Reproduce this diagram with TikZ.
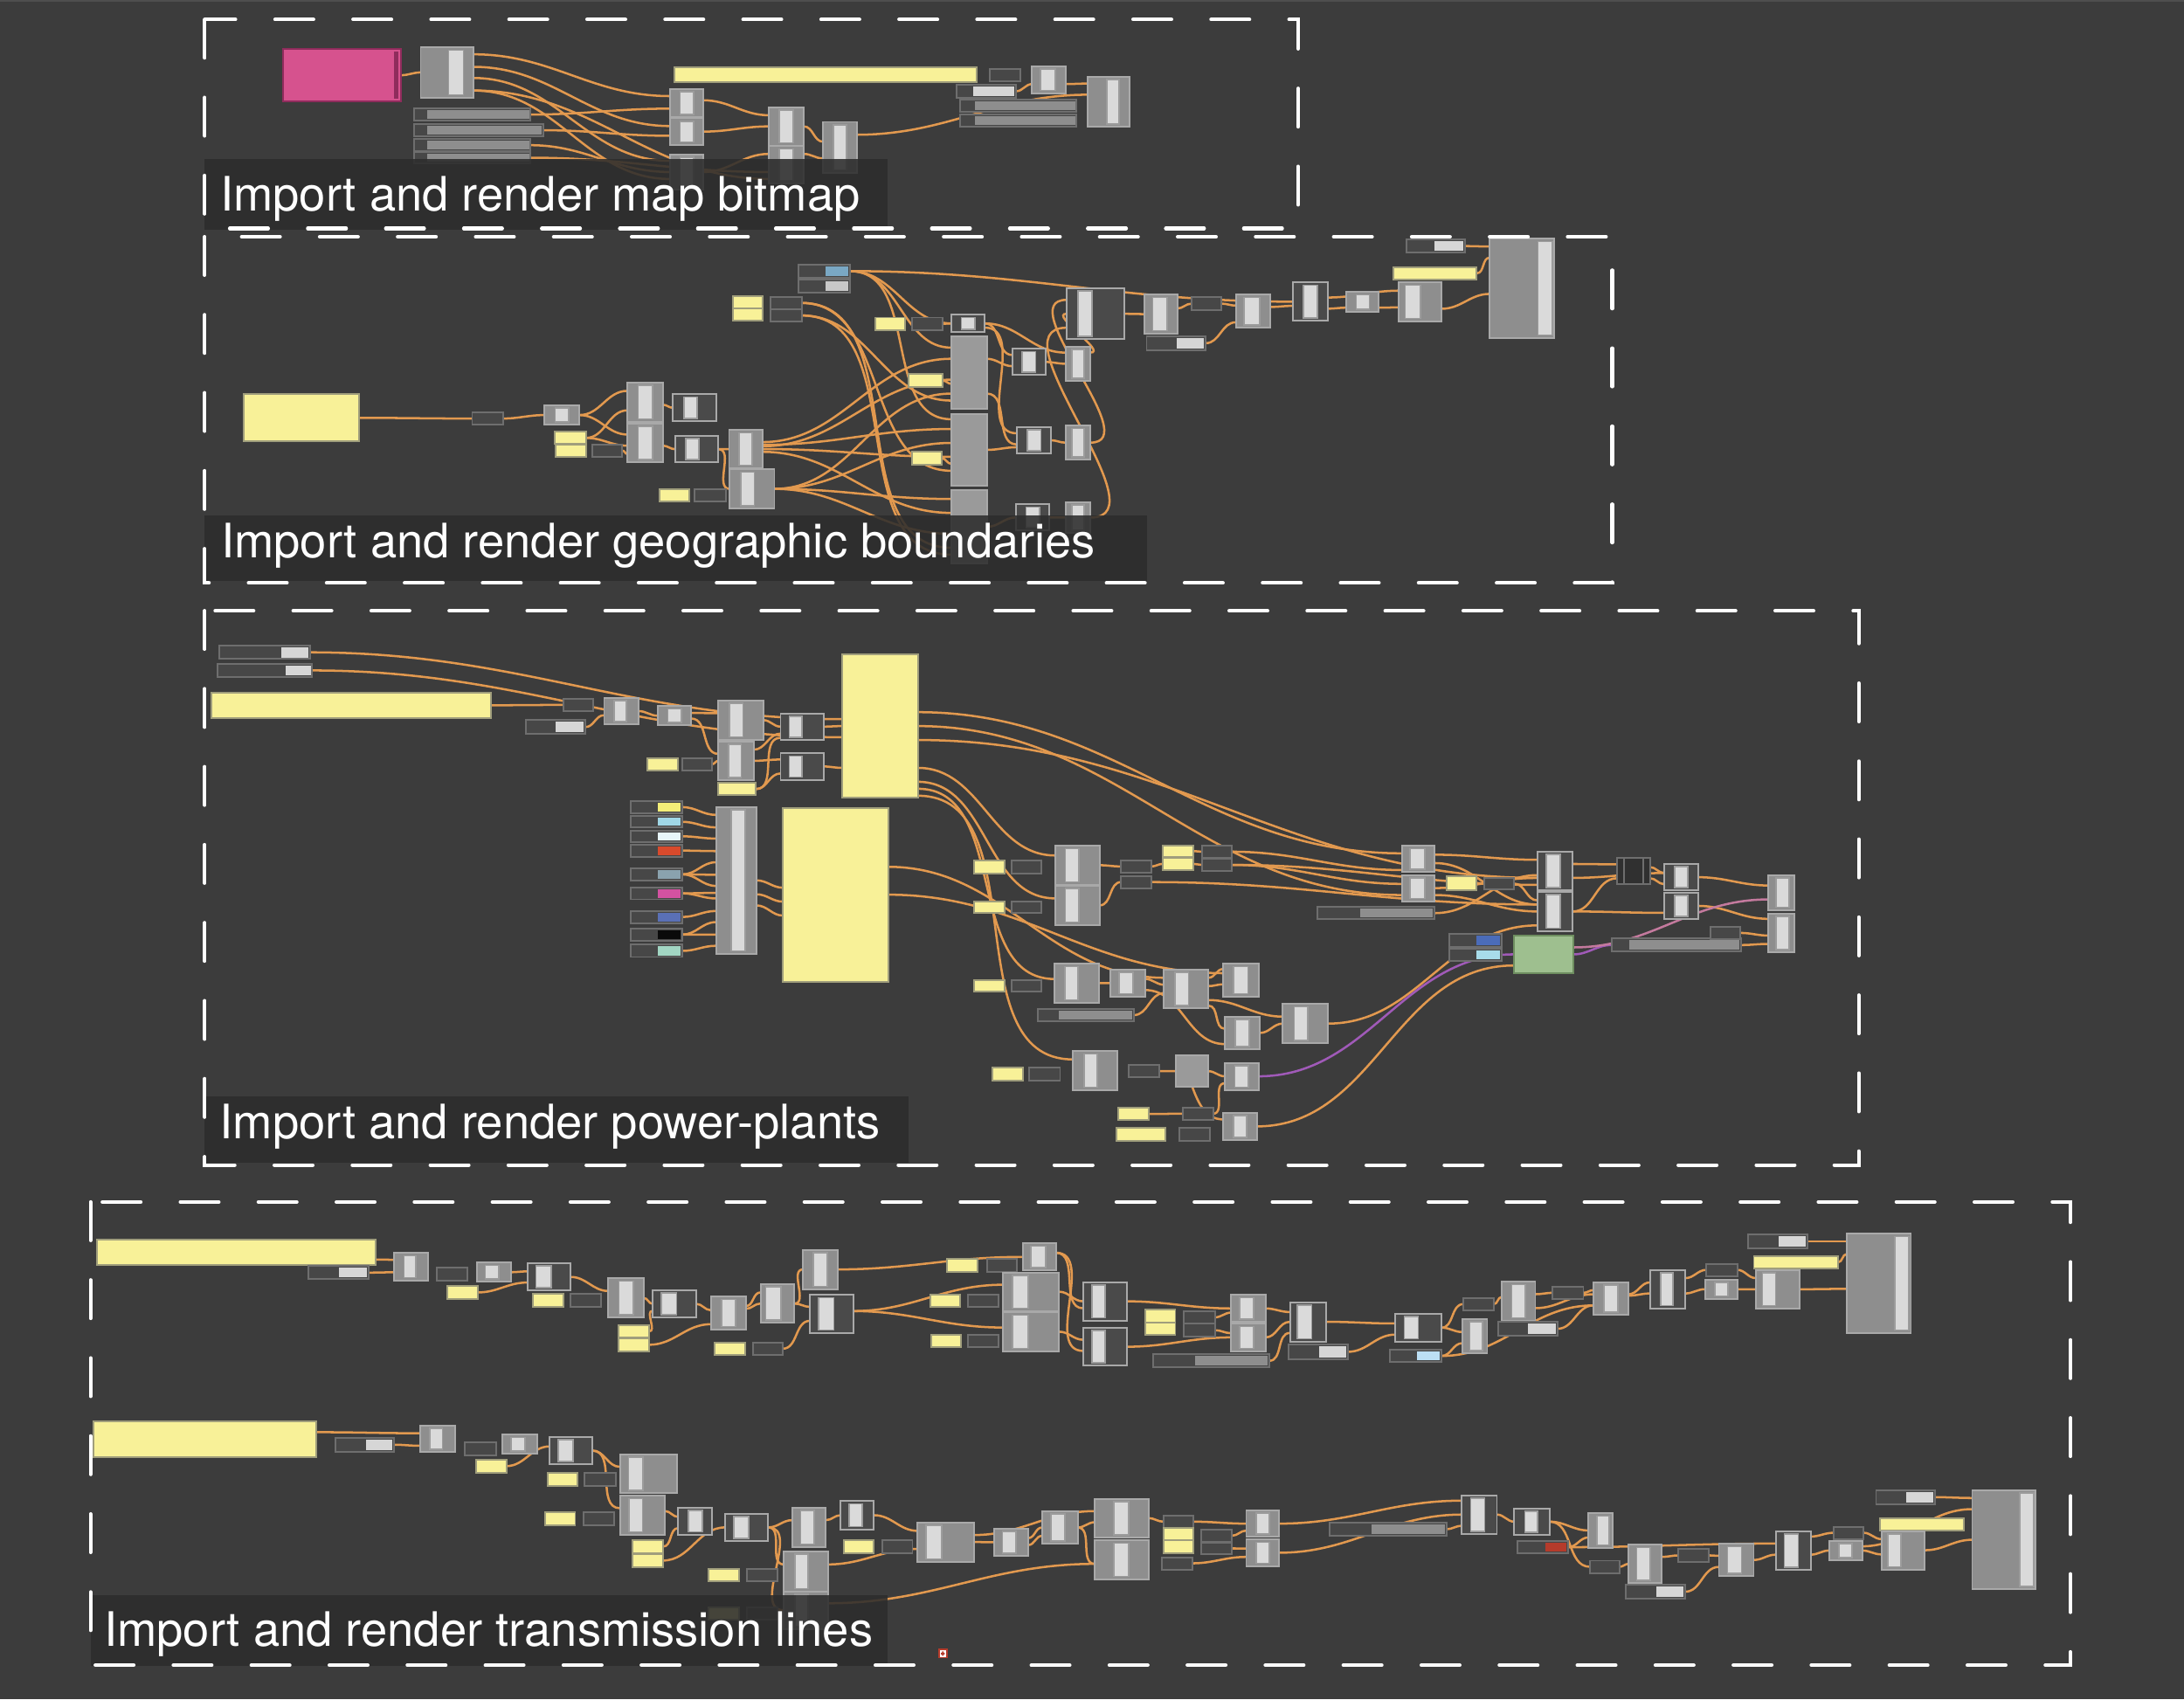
\documentclass[tikz,border=0pt]{standalone}
\usepackage{fontspec}
\setmainfont{TeX Gyre Heros}
\usetikzlibrary{fit,calc}
\pgfdeclarelayer{bgl}
\pgfdeclarelayer{wl}
\pgfdeclarelayer{tl}
\pgfsetlayers{bgl,wl,main,tl}
\definecolor{cbg}{HTML}{3C3C3C}
\definecolor{ctop}{HTML}{4E4E4E}
\definecolor{cgray}{HTML}{8E8E8E}
\definecolor{cgedge}{HTML}{A9A9A9}
\definecolor{cdark}{HTML}{4A4A4A}
\definecolor{cbar}{HTML}{DADADA}
\definecolor{cbaredge}{HTML}{9C9C9C}
\definecolor{cyel}{HTML}{F8F198}
\definecolor{cyedge}{HTML}{A09E7C}
\definecolor{cpar}{HTML}{474747}
\definecolor{cpedge}{HTML}{6E6E6E}
\definecolor{cplain}{HTML}{9A9A9A}
\definecolor{cwire}{HTML}{E2994F}
\definecolor{clab}{HTML}{2D2D2D}
\definecolor{cpink}{HTML}{D6528E}
\definecolor{cpinkd}{HTML}{8F2C5C}
\definecolor{cswb}{HTML}{7AA8C4}
\definecolor{clgray}{HTML}{C8C8C8}
\definecolor{clight}{HTML}{D6D6D6}
\definecolor{swy}{HTML}{F4EE78}
\definecolor{swc}{HTML}{A0D7E6}
\definecolor{swl}{HTML}{E8F6FA}
\definecolor{swr}{HTML}{D84A2C}
\definecolor{swg}{HTML}{8AA2AE}
\definecolor{swp}{HTML}{D352A1}
\definecolor{swb}{HTML}{5A70B6}
\definecolor{swk}{HTML}{0A0A0A}
\definecolor{swm}{HTML}{A2D6C3}
\definecolor{cblue}{HTML}{4B6CB9}
\definecolor{clb}{HTML}{A8DCEA}
\definecolor{cgreen}{HTML}{9EBF8F}
\definecolor{cgreend}{HTML}{6E8E60}
\definecolor{cred}{HTML}{B53B2B}
\definecolor{clblue}{HTML}{BCDFF4}
\definecolor{cpurple}{HTML}{A05AB8}
\definecolor{cpinkw}{HTML}{C47A9E}
\definecolor{cblk}{HTML}{303030}
\tikzset{
  base/.style={inner sep=0pt,outer sep=0pt,line width=0.35pt},
  gbox/.style={base,fill=cgray,draw=cgedge},
  dbox/.style={base,fill=cdark,draw=cgedge},
  ybox/.style={base,fill=cyel,draw=cyedge},
  pbox/.style={base,fill=cpar,draw=cpedge},
  plainbox/.style={base,fill=cplain,draw=cgedge},
  pinkbox/.style={base,fill=cpink,draw=cpinkd},
  greenbox/.style={base,fill=cgreen,draw=cgreend},
  blackbox/.style={base,fill=cblk,draw=cpedge},
  iconbox/.style={base,fill=white,draw=cred},
  barst/.style={fill=cbar,draw=cbaredge,line width=0.3pt},
  wire/.style={draw=cwire,line width=0.45pt},
  pwire/.style={draw=cpurple},
  kwire/.style={draw=cpinkw},
  grpframe/.style={draw=white,line width=0.75pt,line cap=round,dash pattern=on 2.75mm off 2.85mm},
  lblbox/.style={fill=clab,fill opacity=0.88,draw=none},
  lbl/.style={text=white,anchor=base west,inner sep=0pt,font=\fontsize{9.7}{12}\selectfont},
}
% component: [style]{name}{x1}{y1}{x2}{y2}{bar from}{bar to}
\newcommand\gcomp[8][gbox]{\node[#1,fit={(#3,#4) (#5,#6)}] (#2) {};
  \filldraw[barst] ({#3+(#5-#3)*#7},{#4+2}) rectangle ({#3+(#5-#3)*#8},{#6-2});}
\newcommand\gpan[5]{\node[ybox,fit={(#2,#3) (#4,#5)}] (#1) {};}
\newcommand\gprm[5]{\node[pbox,fit={(#2,#3) (#4,#5)}] (#1) {};}
\newcommand\gblk[6][plainbox]{\node[#1,fit={(#3,#4) (#5,#6)}] (#2) {};}
\newcommand\gsld[7]{\node[pbox,fit={(#2,#3) (#4,#5)}] (#1) {};
  \fill[#7] ({#6},{#3+1.2}) rectangle ({#4-1.2},{#5-1.2});}
\newcommand\gw[5][]{\draw[wire,#1] ($(#2.east)+(0,#3)$) to[out=0,in=180] ($(#4.west)+(0,#5)$);}
\begin{document}
\begin{tikzpicture}[x=0.1mm,y=-0.1mm]
\useasboundingbox (0,0) rectangle (1568,1220);
\begin{pgfonlayer}{bgl}
\fill[cbg] (0,0) rectangle (1568,1220);
\fill[ctop] (0,0) rectangle (1568,1.5);
\end{pgfonlayer}

% ================= Group 1 : map bitmap =================
\gblk[pinkbox]{g1pink}{203}{35}{288}{73}
\fill[cpinkd] (283,37) rectangle (286,71);
\gcomp{g1a}{302}{34}{340}{70}{0.53}{0.81}
\gsld{g1s1}{297}{78}{381}{86.5}{307}{cgray}
\gsld{g1s2}{297}{89}{390}{98}{307}{cgray}
\gsld{g1s3}{297}{100}{381}{108.5}{307}{cgray}
\gsld{g1s4}{297}{109}{381}{117.5}{307}{cgray}
\gpan{g1y}{484}{48}{701}{59}
\gcomp{g1b1}{481}{64}{505}{84}{0.3}{0.7}
\gcomp{g1b2}{481}{85}{505}{104}{0.3}{0.7}
\gcomp{g1b3}{481}{111}{505}{136}{0.3}{0.7}
\gcomp{g1c1}{552}{77}{577}{104.5}{0.3}{0.7}
\gcomp{g1c2}{552}{105}{577}{132}{0.3}{0.7}
\gcomp{g1d1}{591}{87.5}{615}{124}{0.3}{0.7}
\gprm{g1p}{710.6}{49.6}{732.5}{58.5}
\gcomp{g1e}{741}{47.7}{765}{67}{0.25}{0.7}
\gsld{g1f}{687}{61}{729.5}{70}{699}{clight}
\gsld{g1g1}{689}{71.7}{773}{80.4}{700}{cgray}
\gsld{g1g2}{689}{82}{773}{91}{700}{cgray}
\gcomp{g1h}{781}{55}{811}{91}{0.45}{0.75}

% ================= Group 2 : geographic boundaries =================
\gpan{g2big}{175}{283}{258}{317}
\gprm{g2p1}{339}{296}{361}{305}
\gcomp{g2h1}{391}{291}{416}{305}{0.3}{0.7}
\gcomp{g2h2}{450.6}{274.5}{476}{302.7}{0.3}{0.7}
\gcomp[dbox]{g2h3}{483}{283}{514.6}{302.5}{0.25}{0.55}
\gcomp{g2h4}{450.6}{304}{476}{332}{0.3}{0.7}
\gpan{g2y1}{398.5}{310}{420.7}{318.8}
\gpan{g2y2}{399}{319}{421}{328}
\gprm{g2p2}{425}{319}{446.7}{328}
\gcomp[dbox]{g2h5}{484.7}{313}{515.7}{332}{0.25}{0.55}
\gcomp{g2h6}{523.4}{308.8}{547.4}{336}{0.3}{0.7}
\gcomp{g2h7}{524}{337}{556}{365}{0.25}{0.55}
\gpan{g2y3}{473.5}{351}{495}{360}
\gprm{g2p3}{498.8}{351}{521}{360}
\gsld{g2s1}{573.4}{190}{610.4}{199.3}{592.8}{cswb}
\gsld{g2s2}{573.4}{201}{610.4}{210}{592.8}{clgray}
\gpan{g2y4}{526}{212.6}{547.4}{221.2}
\gpan{g2y5}{526}{221.6}{547.4}{230}
\gprm{g2p4}{553.4}{213}{575.5}{222}
\gprm{g2p5}{553.4}{222}{575.5}{231}
\gpan{g2y6}{628.3}{228}{650}{237}
\gprm{g2p6}{654.7}{228}{676.6}{237}
\gcomp[dbox]{g2i1}{683}{226}{707}{238.4}{0.3}{0.7}
\gblk{g2i2}{683}{241.5}{708.5}{293.7}
\gblk{g2i3}{683}{297}{708.5}{349}
\gblk{g2i4}{683}{352}{708.5}{404.5}
\gpan{g2y7}{652.2}{268.6}{677}{278}
\gpan{g2y8}{654.7}{324.5}{676}{333.4}
\gcomp[dbox]{g2j1}{726.9}{250.5}{750.6}{269.3}{0.3}{0.7}
\gcomp{g2j2}{764.9}{248.8}{782.8}{273.5}{0.25}{0.75}
\gcomp[dbox]{g2j3}{730}{306.5}{754.6}{325.7}{0.3}{0.7}
\gcomp{g2j4}{764.9}{305.6}{782.8}{330}{0.25}{0.75}
\gcomp[dbox]{g2j5}{729.4}{362}{753.4}{381}{0.3}{0.7}
\gcomp{g2j6}{764.9}{360.6}{782.8}{382.6}{0.25}{0.75}
\gcomp[dbox]{g2k1}{765.7}{207}{807.3}{243.6}{0.2}{0.44}
\gcomp{g2k2}{821.6}{211.6}{845.2}{239.4}{0.25}{0.7}
\gprm{g2p7}{855.4}{213.3}{877}{222.7}
\gsld{g2s3}{823.2}{241.5}{865.6}{251.3}{845}{clight}
\gcomp{g2k3}{887.2}{211.6}{911.7}{235.2}{0.25}{0.7}
\gcomp[dbox]{g2k4}{928}{202.8}{953.3}{230.4}{0.3}{0.7}
\gcomp{g2k5}{966.8}{209.7}{990}{224.1}{0.3}{0.7}
\gcomp{g2k6}{1004.3}{202.8}{1035}{230.6}{0.15}{0.5}
\gpan{g2y9}{1000.3}{191.7}{1060.2}{200.7}
\gsld{g2s4}{1009.7}{171.9}{1052}{181.5}{1030}{clight}
\gcomp{g2k7}{1069.6}{171.5}{1115.7}{242.5}{0.75}{0.97}

% ================= Group 3 : power plants =================
\gsld{g3s1}{157.4}{463.5}{222.5}{473.2}{202}{clight}
\gsld{g3s2}{156.3}{476.5}{224.2}{486.2}{205}{clight}
\gpan{g3y1}{152}{497.4}{352.7}{515.3}
\gprm{g3p1}{404.5}{501.8}{426}{510.4}
\gsld{g3s3}{377.4}{517}{420.3}{527}{399}{clight}
\gcomp{g3q1}{433.7}{501}{458.3}{520}{0.3}{0.65}
\gcomp{g3q2}{472.4}{507}{496.3}{520.8}{0.3}{0.7}
\gcomp{g3q3}{515.7}{503}{548}{531}{0.25}{0.55}
\gcomp{g3q4}{515.7}{532.2}{541}{560.3}{0.3}{0.65}
\gpan{g3y2}{464.7}{544.2}{486.5}{553.3}
\gprm{g3p2}{490}{544.2}{511}{553.3}
\gpan{g3y3}{515.3}{562.2}{542.8}{570.8}
\gcomp[dbox]{g3q5}{560.4}{512.2}{591.4}{531.2}{0.2}{0.5}
\gcomp[dbox]{g3q6}{560.4}{540.8}{591.4}{559.8}{0.2}{0.5}
\gpan{g3r1}{604.4}{469.8}{659}{572.8}
\gpan{g3r2}{562.2}{579.9}{637.8}{704.8}
\gsld{g3c1}{453}{575.2}{490}{583.8}{472}{swy}
\gsld{g3c2}{453}{585.9}{490}{594.2}{472}{swc}
\gsld{g3c3}{453}{596.3}{490}{604.6}{472}{swl}
\gsld{g3c4}{453}{606.4}{490}{615}{472}{swr}
\gsld{g3c5}{453}{623.3}{490}{632.2}{472}{swg}
\gsld{g3c6}{453}{637.1}{490}{645.7}{472}{swp}
\gsld{g3c7}{453}{654}{490}{662.7}{472}{swb}
\gsld{g3c8}{453}{666.5}{490}{675.4}{472}{swk}
\gsld{g3c9}{453}{678.3}{490}{687.1}{472}{swm}
\gcomp{g3s}{514}{579.3}{543}{684.8}{0.38}{0.72}
\gcomp{g3t1}{757.6}{607.3}{789.5}{635.1}{0.23}{0.53}
\gcomp{g3t2}{757.6}{636}{789.5}{664}{0.23}{0.53}
\gpan{g3y4}{699.3}{618}{721.3}{627}
\gprm{g3p4}{726}{618}{747.7}{627}
\gpan{g3y5}{699.3}{647}{721.3}{655.6}
\gprm{g3p5}{726}{647}{747.7}{655.6}
\gprm{g3p6}{804.9}{617.6}{826.5}{626.6}
\gprm{g3p7}{804.9}{628.9}{826.5}{637.7}
\gpan{g3y6}{835}{607}{856.6}{615}
\gpan{g3y7}{835}{615.7}{856.6}{624.7}
\gprm{g3p8}{862.8}{607.3}{884.5}{615.7}
\gprm{g3p9}{862.8}{616.8}{884.5}{625.1}
\gsld{g3s4}{946}{651.2}{1030}{660}{976.5}{cgray}
\gpan{g3y8}{699.5}{703.5}{721.3}{712}
\gprm{g3p10}{726}{703.5}{747.7}{712}
\gcomp{g3u1}{757.2}{692}{789}{719.8}{0.23}{0.53}
\gcomp{g3u2}{797.2}{696.2}{822}{715.4}{0.25}{0.65}
\gcomp{g3u3}{835.7}{696.2}{867.6}{723.8}{0.25}{0.55}
\gcomp{g3u4}{878.2}{692}{903.5}{715.4}{0.3}{0.7}
\gsld{g3s5}{745}{724.4}{814}{733.2}{760}{cgray}
\gcomp{g3u5}{879.3}{730}{904.6}{753.2}{0.3}{0.7}
\gcomp{g3u6}{921}{720.8}{953.4}{749}{0.25}{0.55}
\gpan{g3y9}{712.5}{766.6}{734.5}{775.6}
\gprm{g3p11}{739.1}{766.6}{761.1}{775.6}
\gcomp{g3v1}{770.1}{754.7}{802.3}{782.5}{0.25}{0.55}
\gprm{g3p12}{810.4}{764.5}{832.4}{773.5}
\gblk{g3v2}{844.5}{757.8}{867.6}{780.4}
\gcomp{g3v3}{879.3}{763}{903.5}{782.5}{0.3}{0.7}
\gpan{g3y10}{802.7}{795.4}{824.7}{804.2}
\gprm{g3p13}{849.3}{795}{870.9}{804.2}
\gpan{g3y11}{801.6}{810}{836.8}{818.9}
\gprm{g3p14}{846.7}{810}{868.7}{818.9}
\gcomp{g3v4}{878.2}{799}{902.4}{818.4}{0.3}{0.7}
\gcomp{g3w1}{1006.4}{607.3}{1030}{626}{0.25}{0.7}
\gcomp{g3w2}{1006.4}{628.2}{1030}{647}{0.25}{0.7}
\gpan{g3y12}{1038.8}{628.9}{1060.2}{639.3}
\gprm{g3p15}{1065.4}{630.1}{1087.1}{638.7}
\gcomp[dbox]{g3w3}{1103.7}{611.5}{1129.1}{639.1}{0.25}{0.65}
\gcomp[dbox]{g3w4}{1103.7}{640.4}{1129.1}{668.4}{0.25}{0.65}
\gblk[blackbox]{g3w5}{1161}{616.1}{1184.6}{635}
\draw[cpedge,line width=0.35pt] (1166,616.1) -- (1166,635) (1179.6,616.1) -- (1179.6,635);
\gcomp[dbox]{g3w6}{1194.8}{620.3}{1219.3}{639.3}{0.3}{0.7}
\gcomp[dbox]{g3w7}{1194.8}{640.8}{1219.3}{660}{0.3}{0.7}
\gsld{g3sw1}{1040.6}{670.7}{1078.4}{679.9}{1060.2}{cblue}
\gsld{g3sw2}{1040.6}{681.1}{1078.4}{689.9}{1060.2}{clb}
\gblk[greenbox]{g3grn}{1086.7}{671.7}{1129.6}{698.7}
\gsld{g3s6}{1157}{673.8}{1250}{683.2}{1170}{cgray}
\gprm{g3p16}{1227.8}{665.4}{1249.5}{674.2}
\gcomp{g3w8}{1269.6}{628.2}{1288}{653.3}{0.3}{0.8}
\gcomp{g3w9}{1269.6}{655.8}{1288}{683.6}{0.3}{0.8}

% ================= Group 4 : transmission lines, upper row =================
\gpan{g4y1}{69.9}{890.2}{269.9}{908.4}
\gsld{g4s1}{221.6}{909}{264.4}{918.4}{243.5}{clight}
\gcomp{g4x1}{282.8}{899.6}{307.2}{919.3}{0.3}{0.65}
\gprm{g4p1}{313.6}{910.3}{335.5}{919.5}
\gcomp{g4x2}{342.2}{906.5}{366.7}{920.3}{0.25}{0.65}
\gpan{g4y2}{321.3}{923.4}{343.2}{932.4}
\gcomp[dbox]{g4x3}{378.6}{907}{409.8}{926.6}{0.2}{0.55}
\gpan{g4y3}{382.4}{929}{404.3}{938.3}
\gprm{g4p2}{409.8}{929}{431.7}{938.3}
\gcomp{g4x4}{436.8}{917.8}{462.2}{946}{0.3}{0.7}
\gcomp[dbox]{g4x5}{468.6}{926.2}{499.8}{946}{0.2}{0.55}
\gpan{g4y4}{443.9}{951.6}{466}{960.2}
\gpan{g4y5}{443.9}{961}{466}{970}
\gcomp{g4x6}{510.4}{931}{535.5}{954.4}{0.3}{0.7}
\gpan{g4y6}{513}{963.8}{534.9}{972.8}
\gprm{g4p3}{540.4}{963.8}{562}{972.8}
\gcomp{g4x7}{546}{922}{570.4}{949.8}{0.15}{0.6}
\gcomp{g4x8}{576.5}{897.3}{601.2}{925.5}{0.3}{0.7}
\gcomp[dbox]{g4x9}{581.5}{929.7}{612.6}{956.9}{0.2}{0.55}
\gpan{g4y7}{680}{903.8}{701.9}{913}
\gprm{g4p4}{708.7}{903.8}{730.2}{913}
\gpan{g4y8}{667.7}{929.3}{689.3}{938.3}
\gprm{g4p5}{695.1}{929.3}{716.7}{938.3}
\gpan{g4y9}{668.6}{958.1}{690.2}{967.3}
\gprm{g4p6}{695.1}{958.1}{716.7}{967.3}
\gcomp{g4x10}{734.2}{892.7}{758}{912.1}{0.25}{0.7}
\gcomp{g4x11}{719.8}{913.6}{760.4}{941.2}{0.18}{0.45}
\gcomp{g4x12}{719.8}{942.2}{760.4}{970}{0.18}{0.45}
\gcomp[dbox]{g4x13}{777.7}{920.5}{809.1}{948.1}{0.2}{0.5}
\gcomp[dbox]{g4x14}{777.7}{953.3}{809.1}{980.5}{0.2}{0.5}
\gpan{g4y10}{822.3}{940.4}{843.9}{949.3}
\gpan{g4y11}{822.3}{949.6}{843.9}{958.5}
\gprm{g4p7}{850}{941.4}{872.2}{950.2}
\gprm{g4p8}{850}{950.4}{872.2}{959.6}
\gsld{g4s2}{827.6}{972.3}{911.3}{981.7}{857.7}{cgray}
\gcomp{g4x15}{883.9}{929.7}{908.6}{949.1}{0.25}{0.65}
\gcomp{g4x16}{883.9}{950.4}{908.6}{970}{0.25}{0.65}
\gcomp[dbox]{g4x17}{926.1}{934.9}{952.3}{963.1}{0.2}{0.6}
\gsld{g4s3}{925.2}{965.4}{967.7}{975.7}{947.1}{clight}
\gcomp[dbox]{g4x18}{1001.6}{943.3}{1035}{963.1}{0.2}{0.5}
\gsld{g4s4}{997.6}{969}{1035}{978}{1017}{clblue}
\gprm{g4p9}{1050.5}{931.8}{1072.5}{940.8}
\gcomp{g4z1}{1049.9}{947}{1067.8}{971.7}{0.3}{0.8}
\gcomp{g4z2}{1078.1}{920.3}{1102.3}{948.1}{0.3}{0.7}
\gsld{g4s5}{1075.6}{949.1}{1118}{959}{1097}{clight}
\gprm{g4p10}{1114.8}{923.6}{1136.8}{932.8}
\gcomp{g4z3}{1144}{920.5}{1169}{944}{0.3}{0.7}
\gcomp[dbox]{g4z4}{1184.8}{912}{1209.9}{939.3}{0.3}{0.65}
\gprm{g4p11}{1225.2}{907.3}{1247.2}{916.1}
\gcomp{g4z5}{1224}{918.8}{1247.5}{932.4}{0.3}{0.7}
\gpan{g4y12}{1259.1}{901.7}{1319.6}{910.9}
\gcomp{g4z6}{1260.7}{912}{1292}{939.3}{0.15}{0.45}
\gsld{g4s6}{1255}{886.4}{1297.7}{896.3}{1277}{clight}
\gcomp{g4z7}{1325.9}{885.8}{1372}{956.9}{0.75}{0.97}

% ================= Group 4 : lower row =================
\gpan{g4by1}{67.3}{1020.2}{226.8}{1046.3}
\gsld{g4bs1}{240.9}{1032.3}{283.1}{1042.2}{262.8}{clight}
\gcomp{g4ba1}{301.4}{1023.4}{326.5}{1042.6}{0.28}{0.65}
\gprm{g4bp1}{333.6}{1035.5}{356.1}{1044.7}
\gcomp{g4ba2}{360.9}{1030}{385.7}{1043.8}{0.25}{0.65}
\gpan{g4by2}{341.6}{1048}{363.5}{1057.2}
\gcomp[dbox]{g4ba3}{394.7}{1031.7}{425.2}{1051.2}{0.2}{0.55}
\gpan{g4by3}{393}{1057.4}{414.6}{1066.6}
\gprm{g4bp2}{419.8}{1057.4}{442}{1066.6}
\gcomp{g4ba4}{445.2}{1044.3}{486.3}{1072}{0.15}{0.4}
\gcomp{g4ba5}{445.2}{1074}{477.3}{1101.7}{0.2}{0.5}
\gpan{g4by4}{391.4}{1085.6}{413}{1094.8}
\gprm{g4bp3}{418.8}{1085.6}{440.7}{1094.8}
\gcomp[dbox]{g4ba6}{487}{1082.5}{511.4}{1101.7}{0.3}{0.7}
\gcomp[dbox]{g4ba7}{520.7}{1086.7}{551.6}{1106.5}{0.2}{0.55}
\gpan{g4by5}{454.2}{1105.9}{476}{1114.9}
\gpan{g4by6}{454.2}{1115.9}{476}{1124.9}
\gpan{g4by7}{508.8}{1126.2}{530.7}{1135.2}
\gprm{g4bp4}{536.2}{1126.2}{558}{1135.2}
\gpan{g4by8}{508.8}{1154}{530.7}{1163}
\gprm{g4bp5}{536.2}{1154}{558}{1163}
\gcomp{g4bb1}{568.8}{1082.3}{592.9}{1110.5}{0.25}{0.65}
\gcomp[dbox]{g4bb2}{603.6}{1077.7}{627.4}{1098}{0.25}{0.65}
\gcomp{g4bb3}{562.7}{1113.9}{594.4}{1142.5}{0.25}{0.55}
\gcomp{g4bb3b}{562.7}{1142.5}{594.4}{1169.7}{0.25}{0.55}
\gpan{g4by9}{605.8}{1105.9}{627.4}{1115.3}
\gprm{g4bp6}{633.5}{1105.9}{655.1}{1115.3}
\gcomp{g4bb4}{658.8}{1093}{699.1}{1121.2}{0.15}{0.43}
\gcomp{g4bb5}{713.6}{1097.6}{738.2}{1117}{0.25}{0.65}
\gcomp{g4bb6}{748.1}{1085}{773.7}{1108.4}{0.25}{0.65}
\gcomp{g4bb7}{786}{1076}{824.5}{1103.8}{0.35}{0.63}
\gcomp{g4bb8}{786}{1105.9}{824.5}{1133.7}{0.35}{0.63}
\gprm{g4bp7}{835.3}{1088.1}{856.8}{1096.9}
\gpan{g4by10}{835.3}{1097.1}{856.8}{1105.9}
\gpan{g4by11}{835.3}{1105.9}{856.8}{1114.9}
\gprm{g4bp8}{834.3}{1118}{855.9}{1126.8}
\gprm{g4bp9}{862.4}{1098.2}{884.5}{1107}
\gprm{g4bp10}{862.4}{1107.4}{884.5}{1116}
\gcomp{g4bb9}{894.7}{1084.4}{918.4}{1103.4}{0.3}{0.7}
\gcomp{g4bb10}{894.7}{1105.3}{918.4}{1124.3}{0.3}{0.7}
\gsld{g4bs2}{954.5}{1093.4}{1038.6}{1102.4}{984.6}{cgray}
\gcomp[dbox]{g4bc1}{1049.6}{1073.5}{1074.7}{1101.3}{0.25}{0.65}
\gcomp[dbox]{g4bc2}{1087.2}{1082.9}{1112.6}{1102.1}{0.3}{0.65}
\gsld{g4bs3}{1089.7}{1106.3}{1125.8}{1115.3}{1109.5}{cred}
\gcomp{g4bc3}{1140.5}{1086.5}{1158.1}{1111.1}{0.35}{0.85}
\gprm{g4bp11}{1141.5}{1120.5}{1162.8}{1129.3}
\gcomp{g4bc4}{1169.1}{1109}{1193.2}{1136.6}{0.25}{0.65}
\gsld{g4bs4}{1167.2}{1137.9}{1209.8}{1147.7}{1189.1}{clight}
\gprm{g4bp12}{1205.1}{1112.2}{1226.8}{1121.2}
\gcomp{g4bc5}{1234}{1108.4}{1259.1}{1131.6}{0.25}{0.65}
\gcomp[dbox]{g4bc6}{1274.8}{1099.2}{1299.9}{1127.2}{0.25}{0.65}
\gprm{g4bp13}{1316.2}{1096.1}{1338.1}{1104.9}
\gcomp{g4bc7}{1313.3}{1106.3}{1336.9}{1120.1}{0.3}{0.7}
\gsld{g4bs5}{1346.9}{1070}{1389.2}{1079.8}{1368.8}{clight}
\gpan{g4by12}{1350}{1089.8}{1410.2}{1098.6}
\gcomp{g4bc8}{1350.7}{1099.2}{1382}{1126.8}{0.15}{0.45}
\gcomp{g4bc9}{1415.9}{1070}{1461.4}{1141}{0.75}{0.97}
\gblk[iconbox]{g4icon}{674.2}{1184.3}{679.7}{1190.1}
\fill[cred] (675.6,1186.6) rectangle (678.3,1187.8) (676.4,1185.6) rectangle (677.5,1188.8);

% ================= Wires =================
\begin{pgfonlayer}{wl}
% group 1
\gw{g1pink}{0}{g1a}{0}
\gw{g1a}{-13}{g1b1}{-5}
\gw{g1a}{-4}{g1b2}{-4}
\gw{g1a}{4}{g1b3}{-8}
\gw{g1a}{13}{g1b3}{5}
\gw{g1a}{13}{g1c2}{10}
\gw{g1s1}{0}{g1b1}{4}
\gw{g1s2}{0}{g1b2}{3}
\gw{g1s3}{0}{g1b3}{0}
\gw{g1s4}{0}{g1c2}{5}
\gw{g1b1}{-2}{g1c1}{-8}
\gw{g1b2}{0}{g1c1}{0}
\gw{g1b3}{0}{g1c2}{-8}
\gw{g1c1}{0}{g1d1}{-4}
\gw{g1c2}{-8}{g1d1}{8}
\gw{g1d1}{-9}{g1h}{-5}
\gw{g1e}{3}{g1h}{-13}
\gw{g1f}{0}{g1e}{3}
% group 2
\gw{g2big}{0}{g2p1}{0}
\gw{g2p1}{0}{g2h1}{0}
\gw{g2h1}{0}{g2h2}{-8}
\gw{g2h1}{0}{g2h4}{-6}
\gw{g2y1}{0}{g2h2}{6}
\gw{g2y1}{0}{g2h4}{2}
\gw{g2p2}{0}{g2h4}{8}
\gw{g2h2}{2}{g2h3}{0}
\gw{g2h4}{2}{g2h5}{0}
\gw{g2h5}{0}{g2h6}{0}
\gw{g2h5}{0}{g2h7}{0}
\gw{g2h6}{-5}{g2i2}{-10}
\gw{g2h6}{-3}{g2i3}{-15}
\gw{g2h6}{0}{g2i3}{5}
\gw{g2h6}{2}{g2i4}{-10}
\gw{g2h6}{-2}{g2i2}{5}
\gw{g2h7}{0}{g2i2}{15}
\gw{g2h7}{0}{g2i3}{-5}
\gw{g2h7}{0}{g2i4}{5}
\gw{g2h7}{0}{g2i4}{-20}
\gw{g2p4}{0}{g2i3}{15}
\gw{g2p4}{0}{g2i4}{15}
\gw{g2p5}{0}{g2i4}{20}
\gw{g2p5}{0}{g2i2}{20}
\gw{g2s1}{0}{g2k4}{0}
\gw{g2s1}{0}{g2i1}{0}
\gw{g2s1}{0}{g2i2}{-18}
\gw{g2s1}{0}{g2i3}{-22}
\gw{g2y7}{0}{g2i2}{8}
\gw{g2y8}{0}{g2i3}{10}
\gw{g2p6}{0}{g2i1}{0}
\gw{g2i1}{0}{g2j1}{-5}
\gw{g2i1}{0}{g2j2}{-8}
\gw{g2i1}{3}{g2j3}{-5}
\gw{g2i2}{-10}{g2j1}{3}
\gw{g2i2}{15}{g2j3}{3}
\gw{g2j1}{0}{g2j2}{0}
\gw{g2i3}{0}{g2j3}{5}
\gw{g2j3}{0}{g2j4}{0}
\gw{g2i4}{0}{g2j5}{0}
\gw{g2j5}{0}{g2j6}{0}
\gw{g2j2}{-8}{g2k1}{0}
\gw{g2j4}{0}{g2k1}{-10}
\gw{g2j6}{0}{g2k1}{10}
\gw{g2k1}{0}{g2k2}{0}
\gw{g2k2}{-4}{g2p7}{0}
\gw{g2p7}{0}{g2k3}{-4}
\gw{g2s3}{0}{g2k3}{8}
\gw{g2k3}{-3}{g2k4}{3}
\gw{g2k4}{5}{g2k5}{4}
\gw{g2k5}{4}{g2k6}{4}
\gw{g2k4}{-3}{g2k6}{-8}
\gw{g2k6}{5}{g2k7}{4}
\gw{g2y9}{0}{g2k7}{-22}
\gw{g2s4}{0}{g2k7}{-30}
% group 3
\gw{g3s1}{0}{g3r1}{-5}
\gw{g3s2}{0}{g3r1}{8}
\gw{g3y1}{0}{g3p1}{0}
\gw{g3s3}{0}{g3q1}{3}
\gw{g3q1}{0}{g3q2}{0}
\gw{g3q2}{-2}{g3q3}{-5}
\gw{g3q2}{2}{g3q4}{-5}
\gw{g3p2}{0}{g3q4}{0}
\gw{g3q3}{0}{g3q5}{0}
\gw{g3q4}{0}{g3q6}{-5}
\gw{g3q4}{-8}{g3q5}{5}
\gw{g3y3}{0}{g3q5}{8}
\gw{g3y3}{0}{g3q6}{5}
\gw{g3q5}{0}{g3r1}{0}
\gw{g3q6}{0}{g3r1}{30}
\gw{g3c1}{0}{g3s}{-47}
\gw{g3c2}{0}{g3s}{-38}
\gw{g3c3}{0}{g3s}{-30}
\gw{g3c4}{0}{g3s}{-21}
\gw{g3c5}{0}{g3s}{-13}
\gw{g3c5}{0}{g3s}{-4}
\gw{g3c5}{0}{g3s}{4}
\gw{g3c6}{0}{g3s}{9}
\gw{g3c6}{0}{g3s}{13}
\gw{g3c7}{0}{g3s}{22}
\gw{g3c8}{0}{g3s}{30}
\gw{g3c8}{0}{g3s}{39}
\gw{g3c9}{0}{g3s}{47}
\gw{g3s}{0}{g3r2}{-5}
\gw{g3s}{10}{g3r2}{5}
\gw{g3s}{18}{g3r2}{15}
\gw{g3r1}{-10}{g3w1}{-4}
\gw{g3r1}{0}{g3w2}{5}
\gw{g3r1}{10}{g3w3}{5}
\gw{g3r1}{30}{g3t1}{-7}
\gw{g3r1}{40}{g3t2}{-5}
\gw{g3r1}{45}{g3u1}{-3}
\gw{g3r1}{50}{g3v1}{-8}
\gw{g3r2}{-20}{g3u3}{-8}
\gw{g3r2}{0}{g3u4}{-5}
\gw{g3t1}{0}{g3p6}{0}
\gw{g3t2}{0}{g3p7}{0}
\gw{g3p6}{0}{g3y7}{0}
\gw{g3y7}{0}{g3p9}{0}
\gw{g3y6}{0}{g3p8}{0}
\gw{g3p8}{0}{g3w1}{8}
\gw{g3p9}{0}{g3w2}{-3}
\gw{g3p9}{0}{g3w3}{10}
\gw{g3p7}{0}{g3w4}{-5}
\gw{g3u1}{0}{g3u2}{0}
\gw{g3u2}{-3}{g3u3}{-3}
\gw{g3s5}{0}{g3u3}{3}
\gw{g3u3}{-8}{g3u4}{-8}
\gw{g3u3}{-2}{g3u4}{3}
\gw{g3u3}{8}{g3u6}{-5}
\gw{g3u2}{5}{g3u5}{8}
\gw{g3u3}{12}{g3u5}{-3}
\gw{g3u5}{0}{g3u6}{0}
\gw{g3u6}{0}{g3w4}{10}
\gw{g3v4}{0}{g3grn}{8}
\gw[pwire]{g3v3}{0}{g3grn}{0}
\gw{g3p12}{0}{g3v2}{0}
\gw{g3v2}{0}{g3v3}{0}
\gw{g3p13}{0}{g3v3}{5}
\gw{g3y10}{0}{g3p13}{0}
\draw[wire] (g3v2.south) to[out=-70,in=180] ($(g3v4.west)+(0,-5)$);
\gw{g3w1}{-3}{g3w3}{-8}
\gw{g3w1}{3}{g3w4}{-5}
\gw{g3w2}{0}{g3w3}{5}
\gw{g3w2}{5}{g3w4}{0}
\gw{g3y12}{0}{g3p15}{0}
\gw{g3s4}{0}{g3w3}{3}
\gw{g3p15}{0}{g3w4}{-8}
\gw{g3w3}{-5}{g3w5}{-5}
\gw{g3w3}{5}{g3w6}{-3}
\gw{g3w4}{0}{g3w5}{5}
\gw{g3w4}{0}{g3w7}{5}
\gw{g3w5}{-3}{g3w6}{-3}
\gw{g3w5}{5}{g3w6}{5}
\gw{g3w6}{0}{g3w8}{-5}
\gw{g3w7}{0}{g3w9}{-10}
\gw{g3p16}{0}{g3w9}{2}
\gw{g3s6}{0}{g3w9}{8}
\gw[pwire]{g3grn}{0}{g3s6}{0}
\gw[kwire]{g3grn}{-5}{g3w8}{5}
% group 4 upper
\gw{g4y1}{5}{g4x1}{-5}
\gw{g4s1}{0}{g4x1}{4}
\gw{g4x2}{0}{g4x3}{-4}
\gw{g4y2}{0}{g4x3}{4}
\gw{g4x3}{0}{g4x4}{-5}
\gw{g4x4}{0}{g4x5}{0}
\gw{g4x5}{0}{g4x6}{-2}
\gw{g4y4}{0}{g4x5}{5}
\gw{g4y5}{0}{g4x6}{8}
\gw{g4x6}{-5}{g4x7}{-8}
\gw{g4x6}{-3}{g4x7}{0}
\gw{g4x7}{0}{g4x8}{0}
\gw{g4x7}{0}{g4x9}{-5}
\gw{g4p3}{0}{g4x9}{5}
\gw{g4x8}{0}{g4x10}{0}
\gw{g4x9}{-2}{g4x11}{-5}
\gw{g4x9}{-2}{g4x12}{-3}
\gw{g4x10}{-3}{g4x13}{5}
\gw{g4x10}{-3}{g4x14}{3}
\gw{g4x11}{0}{g4x13}{0}
\gw{g4x12}{0}{g4x14}{-5}
\gw{g4x13}{0}{g4x15}{0}
\gw{g4x14}{0}{g4x16}{0}
\gw{g4p7}{0}{g4x15}{3}
\gw{g4p8}{0}{g4x16}{-3}
\gw{g4x15}{0}{g4x17}{-7}
\gw{g4x16}{0}{g4x17}{0}
\gw{g4s2}{0}{g4x17}{8}
\gw{g4x17}{0}{g4x18}{-3}
\gw{g4s3}{0}{g4x18}{5}
\gw{g4x18}{0}{g4p9}{0}
\gw{g4x18}{0}{g4z1}{-3}
\gw{g4s4}{0}{g4z1}{5}
\gw{g4s4}{0}{g4z3}{5}
\gw{g4p9}{0}{g4z2}{-3}
\gw{g4z2}{-5}{g4p10}{0}
\gw{g4z2}{5}{g4z3}{-3}
\gw{g4s5}{0}{g4z3}{5}
\gw{g4p10}{0}{g4z3}{-6}
\gw{g4z3}{-3}{g4z4}{-5}
\gw{g4z3}{-2}{g4z4}{3}
\gw{g4z4}{-8}{g4p11}{0}
\gw{g4z4}{3}{g4z5}{0}
\gw{g4p11}{0}{g4z6}{-8}
\gw{g4z5}{0}{g4z6}{0}
\gw{g4z6}{0}{g4z7}{4}
\gw{g4s6}{0}{g4z7}{-30}
\gw{g4y12}{0}{g4z7}{-21}
% group 4 lower
\gw{g4by1}{-5}{g4ba1}{-4}
\gw{g4bs1}{0}{g4ba1}{5}
\gw{g4by2}{0}{g4ba3}{-3}
\gw{g4ba3}{0}{g4ba4}{-5}
\gw{g4ba3}{0}{g4ba5}{-5}
\gw{g4ba5}{-3}{g4ba6}{-3}
\gw{g4by5}{0}{g4ba6}{5}
\gw{g4by6}{0}{g4ba7}{0}
\gw{g4ba7}{0}{g4bb1}{-5}
\gw{g4ba7}{0}{g4bb3}{-5}
\gw{g4ba7}{0}{g4bb3b}{0}
\gw{g4bb1}{-5}{g4bb2}{0}
\gw{g4bb2}{0}{g4bb4}{-8}
\gw{g4bb3}{-5}{g4bb4}{5}
\gw{g4bb3b}{-5}{g4bb8}{3}
\gw{g4bb4}{0}{g4bb5}{0}
\gw{g4bb4}{-5}{g4bb7}{-5}
\gw{g4bb5}{-3}{g4bb6}{0}
\gw{g4bb5}{2}{g4bb6}{6}
\gw{g4bb6}{0}{g4bb7}{3}
\gw{g4bb6}{0}{g4bb8}{3}
\gw{g4bb7}{0}{g4bp7}{0}
\gw{g4bp7}{0}{g4bb9}{0}
\gw{g4bp8}{0}{g4bb10}{3}
\gw{g4bp9}{0}{g4bb9}{5}
\gw{g4bp10}{0}{g4bb10}{-3}
\gw{g4bb9}{0}{g4bc1}{-10}
\gw{g4bb10}{0}{g4bc1}{0}
\gw{g4bs2}{0}{g4bc1}{8}
\gw{g4bc1}{0}{g4bc2}{0}
\gw{g4bc2}{0}{g4bc3}{0}
\gw{g4bc2}{0}{g4bp11}{0}
\gw{g4bs3}{0}{g4bc3}{5}
\gw{g4bs3}{0}{g4bc6}{-5}
\gw{g4bp11}{0}{g4bc4}{0}
\gw{g4bc4}{-5}{g4bp12}{0}
\gw{g4bp12}{0}{g4bc5}{-3}
\gw{g4bs4}{0}{g4bc5}{5}
\gw{g4bc5}{0}{g4bc6}{3}
\gw{g4bc6}{-10}{g4bp13}{0}
\gw{g4bc6}{3}{g4bc7}{0}
\gw{g4bp13}{0}{g4bc8}{-8}
\gw{g4bc7}{0}{g4bc8}{3}
\gw{g4bc7}{-3}{g4bc9}{-22}
\gw{g4bc8}{0}{g4bc9}{0}
\gw{g4bs5}{0}{g4bc9}{-30}
\end{pgfonlayer}

% ================= Group frames and labels =================
\begin{pgfonlayer}{tl}
\fill[lblbox] (147,114) rectangle (637,165);
\fill[lblbox] (147,370) rectangle (823.6,417);
\fill[lblbox] (147,787) rectangle (652,835);
\fill[lblbox] (65,1145) rectangle (637,1196);
\node[lbl] (t1) at (157.4,151.6) {Import and render map bitmap};
\node[lbl] (t2) at (158,400.7) {Import and render geographic boundaries};
\node[lbl] (t3) at (157,817.5) {Import and render power-plants};
\node[lbl] (t4) at (74,1182) {Import and render transmission lines};
\draw[grpframe] (147,14) rectangle (932,164);
\draw[grpframe] (147,170) rectangle (1157.5,418.5);
\draw[grpframe] (147,438.5) rectangle (1334.5,836.5);
\draw[grpframe] (65,863) rectangle (1486.5,1195.5);
\end{pgfonlayer}
\end{tikzpicture}
\end{document}
